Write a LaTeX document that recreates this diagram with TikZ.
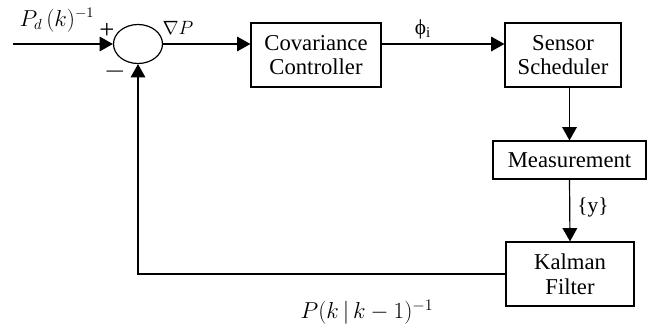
\documentclass[tikz,border=0pt]{standalone}
\usepackage{amsmath}
\usepackage{fontspec}
\setmainfont{Liberation Serif}
\usepackage{tikz}
\usetikzlibrary{positioning, arrows.meta, shapes.geometric}

\begin{document}
\begin{tikzpicture}[
	x=0.75pt, y=-0.75pt,
	% Estilo para los bloques del lazo
	block/.style={
		draw,
		rectangle,
		line width=0.9pt,
		minimum height=48pt,
		inner sep=0pt,
		align=center,
		font=\fontsize{17}{18.5}\selectfont
	},
	% Estilo para el sumador
	sumnode/.style={
		draw,
		ellipse,
		line width=0.9pt,
		minimum width=36.75pt,
		minimum height=29.25pt,
		inner sep=0pt
	},
	% Estilo para las flechas de senal
	signal/.style={
		-{Triangle[length=10pt, width=11pt]},
		line width=0.9pt
	},
	% Estilo para las etiquetas
	siglabel/.style={
		inner sep=0pt,
		font=\fontsize{16}{18}\selectfont
	}
	]
	\useasboundingbox (0,0) rectangle (648,329);
	
	% --- Bloques ---
	\node[sumnode] (sum) at (138,44) {};
	\node[block, minimum width=97.5pt] (cov) at (316,55) {Covariance\\Controller};
	\node[block, minimum width=87pt] (sched) at (563,55) {Sensor\\Scheduler};
	\node[block, minimum width=114.75pt, minimum height=28.5pt] (meas) at (569.5,160) {Measurement};
	\node[block, minimum width=96pt] (kal) at (570,274) {Kalman\\Filter};
	\coordinate (in) at (13,44);
	
	% --- Flechas ---
	\draw[signal] (in) -- (sum.west);
	\draw[signal] (sum.east) -- (cov.west |- sum.east);
	\draw[signal] (cov.east |- sum.east) -- (sched.west |- sum.east);
	\draw[signal] (meas.north |- sched.south) -- (meas.north);
	\draw[signal] (meas.south) -- (kal.north);
	\draw[signal] (kal.west) -| (sum.south);
	
	% --- Etiquetas ---
	\node[siglabel] (pd) at (57,20) {$P_d\,(k)^{-1}$};
	\node[siglabel, font=\fontsize{20}{20}\selectfont] (plus) at (107,31) {+};
	\node[siglabel, font=\fontsize{20}{20}\selectfont] (minus) at (115,72) {$-$};
	\node[siglabel, font=\fontsize{14}{16}\selectfont] (grad) at (178,28) {$\nabla P$};
	\node[siglabel] (phi) at (423,29) {ϕ\textsubscript{i}};
	\node[siglabel] (ymeas) at (593,207) {\{y\}};
	\node[siglabel, font=\fontsize{18}{20}\selectfont] (pkk) at (367,312) {$P(k\,|\,k-1)^{-1}$};
	
\end{tikzpicture}
\end{document}
